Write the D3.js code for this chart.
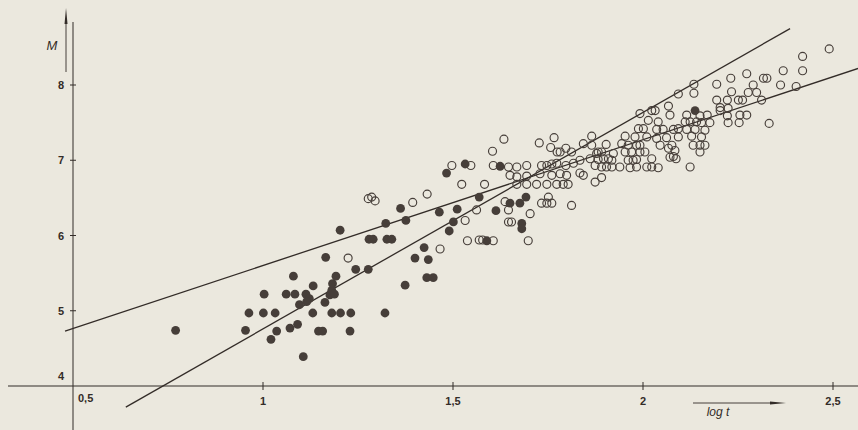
<!DOCTYPE html>
<html><head><meta charset="utf-8">
<script src="https://cdn.jsdelivr.net/npm/d3@7"></script>
<style>html,body{margin:0;padding:0;background:#ebe8de;}svg{display:block;}</style>
</head><body>
<svg id="c" width="858" height="430"></svg>
<script>
// ---- data (log t, M) ----
const xTicks = [1, 1.5, 2, 2.5];
const xTickLabels = ["1", "1,5", "2", "2,5"];
const yTicks = [4, 5, 6, 7, 8];
const yTickLabels = ["4", "5", "6", "7", "8"];

const filledT = [0.770,0.954,0.963,1.001,1.032,1.003,1.080,1.061,1.084,1.113,1.122,1.132,1.096,1.115,1.131,1.163,1.176,1.181,1.183,1.192,1.188,1.181,1.204,1.231,1.321,1.244,1.277,1.036,1.021,1.071,1.091,1.146,1.157,1.229,1.106,1.483,1.203,1.362,1.323,1.376,1.279,1.290,1.326,1.339,1.464,1.511,1.569,1.501,1.490,1.613,1.424,1.400,1.435,1.165,1.431,1.448,1.374,1.589,1.681,1.681,1.650,1.676,1.692,1.532,1.624,2.137];
const filledM = [4.74,4.74,4.97,4.97,4.97,5.22,5.46,5.22,5.22,5.22,5.16,5.33,5.08,5.12,4.97,5.11,5.21,5.27,5.36,5.46,5.22,4.97,4.97,4.97,4.97,5.55,5.55,4.73,4.62,4.77,4.82,4.73,4.73,4.73,4.39,6.83,6.07,6.36,6.16,6.20,5.95,5.95,5.95,5.95,6.31,6.35,6.51,6.18,6.06,6.33,5.84,5.70,5.68,5.71,5.44,5.44,5.34,5.93,6.16,6.09,6.43,6.43,6.51,6.95,6.92,7.66];

const openT = [1.277,1.286,1.295,1.394,1.432,1.224,1.466,1.532,1.562,1.538,1.569,1.578,1.606,1.698,1.497,1.547,1.523,1.583,1.604,1.634,
1.727,1.766,1.757,1.774,1.782,1.797,1.812,1.865,1.843,1.865,1.903,1.882,1.891,1.834,1.861,1.878,1.882,1.896,1.909,1.918,1.922,
1.606,1.646,1.668,1.694,1.733,1.747,1.760,1.773,1.797,1.817,1.874,1.891,1.904,1.918,
1.650,1.668,1.694,1.729,1.760,1.782,1.799,1.834,1.843,1.874,1.891,
1.668,1.694,1.720,1.747,1.773,1.790,1.803,
1.637,1.646,1.703,1.733,1.747,1.760,1.751,1.812,1.646,1.654,
2.490,2.420,2.420,2.369,2.362,2.403,2.273,2.317,2.326,2.231,2.194,2.134,2.290,2.277,2.299,2.233,2.093,2.134,2.194,2.222,2.251,2.262,2.312,
2.203,2.203,2.224,2.067,2.071,2.023,2.032,1.992,2.255,2.273,2.222,2.150,2.169,2.014,2.040,2.115,2.111,2.124,2.141,2.154,2.176,2.224,2.253,2.332,
1.988,2.001,2.036,2.053,2.080,2.093,2.115,2.137,2.163,1.953,1.979,2.010,2.036,2.062,2.093,2.128,2.154,
1.944,1.961,1.983,1.992,2.045,2.076,2.132,2.150,2.163,1.953,1.970,1.992,2.005,2.067,2.084,2.150,
2.023,2.071,2.080,2.087,1.961,1.974,1.983,1.939,1.966,1.983,2.010,2.023,2.040,2.124];
const openM = [6.49,6.51,6.46,6.44,6.55,5.70,5.82,6.20,6.34,5.93,5.94,5.94,5.93,5.93,6.93,6.93,6.68,6.68,7.12,7.28,
7.23,7.30,7.17,7.11,7.11,7.16,7.11,7.32,7.22,7.20,7.21,7.11,7.11,7.00,7.02,7.09,7.01,7.02,7.02,7.00,7.09,
6.93,6.91,6.91,6.93,6.93,6.93,6.95,6.96,6.93,6.96,6.93,6.91,6.91,6.91,
6.80,6.78,6.79,6.82,6.80,6.82,6.80,6.83,6.80,6.71,6.77,
6.68,6.68,6.68,6.68,6.68,6.68,6.68,
6.45,6.34,6.29,6.43,6.43,6.43,6.51,6.40,6.18,6.18,
8.48,8.38,8.19,8.19,8.00,7.98,8.15,8.09,8.09,8.09,8.01,8.01,8.00,7.90,7.90,7.91,7.88,7.89,7.80,7.80,7.80,7.80,7.80,
7.70,7.66,7.69,7.72,7.60,7.66,7.66,7.62,7.60,7.60,7.59,7.59,7.60,7.53,7.51,7.60,7.51,7.51,7.51,7.50,7.50,7.50,7.50,7.49,
7.42,7.42,7.41,7.41,7.41,7.42,7.41,7.41,7.40,7.32,7.31,7.31,7.29,7.30,7.31,7.32,7.31,
7.22,7.20,7.20,7.20,7.20,7.20,7.20,7.20,7.20,7.11,7.11,7.11,7.11,7.16,7.13,7.11,
7.02,7.04,7.05,7.02,7.00,7.00,7.01,6.91,6.90,6.91,6.91,6.91,6.90,6.91];

// regression lines (endpoints)
const lineSteepT = [0.639, 2.387];
const lineSteepM = [3.72, 8.75];
const lineFlatT = [0.479, 2.566];
const lineFlatM = [4.73, 8.22];

// ---- drawing ----
const ink = "#332c28";
const dot = "#463e39";
const font = "Liberation Sans, Arial, sans-serif";
const svg = d3.select("#c");
const x = d3.scaleLinear().domain([0.5, 2.5]).range([73, 833]);
const y = d3.scaleLinear().domain([4, 8]).range([386, 85]);

// axes
const x0 = x(0.5), y0 = y(4);
svg.append("line").attr("x1", 8).attr("x2", 858).attr("y1", y0).attr("y2", y0)
  .attr("stroke", ink).attr("stroke-width", 1.1);
svg.append("line").attr("x1", x0).attr("x2", x0).attr("y1", 22).attr("y2", 430)
  .attr("stroke", ink).attr("stroke-width", 1);

// x ticks
const xt = svg.append("g");
xTicks.forEach((t, i) => {
  xt.append("line").attr("x1", x(t)).attr("x2", x(t)).attr("y1", y0 - 4).attr("y2", y0 + 4)
    .attr("stroke", ink).attr("stroke-width", 1);
  xt.append("text").attr("x", x(t)).attr("y", y0 + 19).attr("text-anchor", "middle")
    .attr("font-family", font).attr("font-size", 11).attr("font-weight", "bold")
    .attr("fill", ink).text(xTickLabels[i]);
});
xt.append("text").attr("x", x0 + 5).attr("y", y0 + 16).attr("text-anchor", "start")
  .attr("font-family", font).attr("font-size", 11).attr("font-weight", "bold")
  .attr("fill", ink).text("0,5");

// y ticks
const yt = svg.append("g");
yTicks.forEach((m, i) => {
  if (m > 4) {
    yt.append("line").attr("x1", x0 - 3).attr("x2", x0 + 3).attr("y1", y(m)).attr("y2", y(m))
      .attr("stroke", ink).attr("stroke-width", 1);
  }
  yt.append("text").attr("x", x0 - 9).attr("y", y(m) + 4 - (m === 4 ? 10 : 0))
    .attr("text-anchor", "end")
    .attr("font-family", font).attr("font-size", 11).attr("font-weight", "bold")
    .attr("fill", ink).text(yTickLabels[i]);
});

// axis labels and arrows
svg.append("text").attr("x", 52).attr("y", 50).attr("font-family", font)
  .attr("font-size", 13).attr("font-style", "italic").attr("fill", ink).attr("text-anchor", "middle").text("M");
svg.append("line").attr("x1", 66).attr("x2", 66).attr("y1", 72).attr("y2", 18).attr("stroke", ink).attr("stroke-width", 0.9);
svg.append("path").attr("d", "M64.5,24 L66,8 L67.5,24 Z").attr("fill", ink);

svg.append("text").attr("x", 718).attr("y", 416).attr("font-family", font)
  .attr("font-size", 12).attr("font-style", "italic").attr("fill", ink).attr("text-anchor", "middle").text("log t");
svg.append("line").attr("x1", 693).attr("x2", 772).attr("y1", 403).attr("y2", 403).attr("stroke", ink).attr("stroke-width", 0.9);
svg.append("path").attr("d", "M770,401.5 L786,403 L770,404.5 Z").attr("fill", ink);

// regression lines
const lg = d3.line().x(d => x(d[0])).y(d => y(d[1]));
svg.append("path").attr("d", lg(d3.zip(lineSteepT, lineSteepM))).attr("fill", "none")
  .attr("stroke", ink).attr("stroke-width", 1.3);
svg.append("path").attr("d", lg(d3.zip(lineFlatT, lineFlatM))).attr("fill", "none")
  .attr("stroke", ink).attr("stroke-width", 1.3);

// open points
svg.append("g").selectAll("circle").data(d3.zip(openT, openM)).join("circle")
  .attr("cx", d => x(d[0])).attr("cy", d => y(d[1])).attr("r", 4)
  .attr("fill", "none").attr("stroke", dot).attr("stroke-width", 1.15);

// filled points
svg.append("g").selectAll("circle").data(d3.zip(filledT, filledM)).join("circle")
  .attr("cx", d => x(d[0])).attr("cy", d => y(d[1])).attr("r", 4.4)
  .attr("fill", dot);
</script>
</body></html>
